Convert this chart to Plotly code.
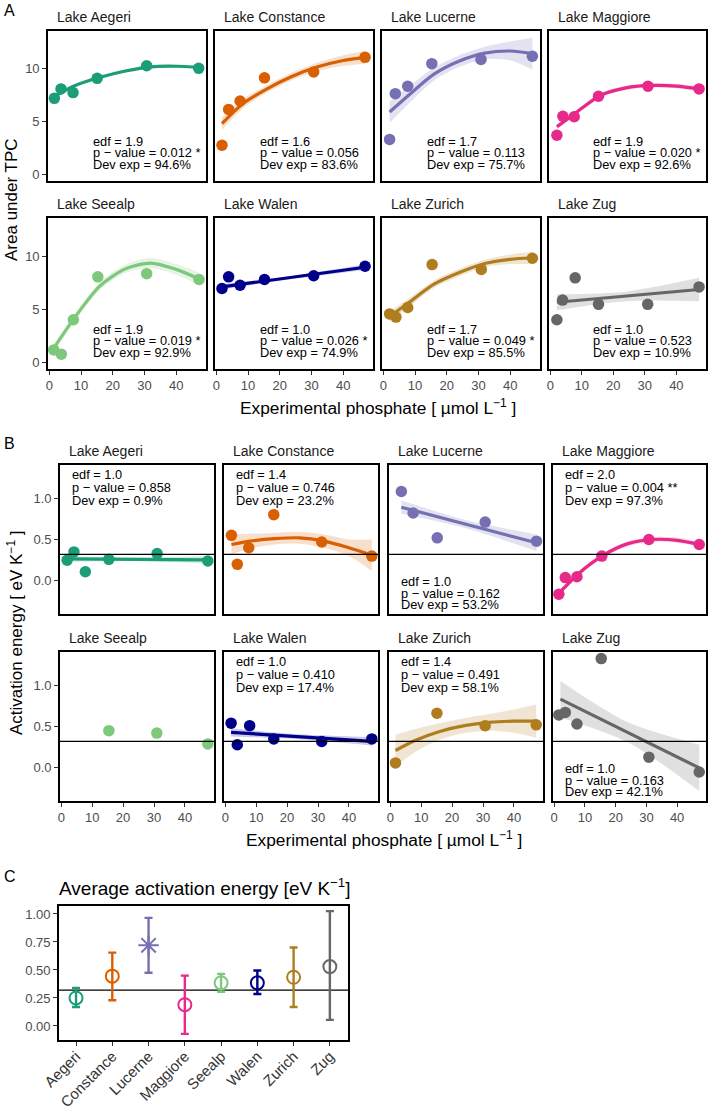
import plotly.graph_objects as go

# ---------------- data ----------------
lakes = ["Aegeri", "Constance", "Lucerne", "Maggiore", "Seealp", "Walen", "Zurich", "Zug"]
lake_colors = ["#1b9e77", "#d95f02", "#7570b3", "#e7298a", "#7dc87a", "#00008b", "#b07d1e", "#666666"]

# Panel A: area under TPC vs phosphate
auc_x = [
    [1.6, 3.7, 7.5, 15.1, 30.7, 47.1],
    [1.8, 3.9, 7.5, 15.2, 30.7, 46.9],
    [2.0, 3.8, 7.7, 15.3, 30.8, 47.0],
    [2.1, 4.0, 7.6, 15.3, 31.0, 47.2],
    [1.4, 3.8, 7.6, 15.3, 30.7, 47.2],
    [1.8, 3.9, 7.5, 15.2, 30.7, 46.9],
    [2.0, 4.0, 7.7, 15.4, 30.9, 47.0],
    [2.1, 3.9, 7.9, 15.3, 30.9, 47.2],
]
auc_y = [
    [7.2, 8.1, 7.75, 9.1, 10.3, 10.05],
    [2.75, 6.15, 6.95, 9.15, 9.7, 11.1],
    [3.3, 7.65, 8.35, 10.5, 10.9, 11.2],
    [3.7, 5.5, 5.45, 7.4, 8.35, 8.1],
    [1.15, 0.75, 4.0, 8.05, 8.35, 7.8],
    [6.95, 8.05, 7.25, 7.8, 8.15, 9.05],
    [4.55, 4.25, 5.15, 9.2, 8.75, 9.8],
    [4.0, 5.85, 7.95, 5.45, 5.45, 7.1],
]
auc_fit_x = [
    [1.6, 8, 16, 24, 32, 40, 47.1],
    [1.8, 8, 16, 24, 32, 40, 46.9],
    [2.0, 8, 16, 24, 32, 40, 47.0],
    [2.1, 8, 16, 24, 32, 40, 47.2],
    [1.4, 8, 16, 24, 32, 40, 47.2],
    [1.8, 24, 46.9],
    [2.0, 8, 16, 24, 32, 40, 47.0],
    [2.1, 24, 47.2],
]
auc_fit = [
    [7.4, 8.4, 9.2, 9.8, 10.2, 10.25, 10.15],
    [4.8, 6.6, 8.1, 9.3, 10.2, 10.8, 11.1],
    [5.9, 7.5, 9.5, 10.75, 11.5, 11.7, 11.45],
    [4.5, 5.8, 7.5, 8.2, 8.43, 8.37, 8.1],
    [1.3, 4.2, 7.2, 8.8, 9.35, 8.75, 7.85],
    [7.1, 8.0, 8.95],
    [4.3, 5.6, 7.35, 8.45, 9.3, 9.7, 9.85],
    [5.65, 6.2, 6.85],
]
auc_se = [
    [0.2, 0.15, 0.15, 0.15, 0.15, 0.15, 0.2],
    [0.6, 0.45, 0.35, 0.35, 0.4, 0.5, 0.6],
    [1.0, 0.8, 0.6, 0.55, 0.6, 0.9, 1.5],
    [0.25, 0.2, 0.2, 0.2, 0.2, 0.2, 0.25],
    [0.4, 0.35, 0.35, 0.4, 0.5, 0.5, 0.6],
    [0.25, 0.15, 0.25],
    [0.5, 0.4, 0.35, 0.35, 0.35, 0.45, 0.6],
    [0.75, 0.45, 1.1],
]
auc_edf = ["1.9", "1.6", "1.7", "1.9", "1.9", "1.0", "1.7", "1.0"]
auc_p = ["0.012 *", "0.056", "0.113", "0.020 *", "0.019 *", "0.026 *", "0.049 *", "0.523"]
auc_dev = ["94.6", "83.6", "75.7", "92.6", "92.9", "74.9", "85.5", "10.9"]

# Panel B: activation energy vs phosphate
ea_x = [
    [1.9, 4.1, 7.8, 15.4, 31.0, 47.4],
    [2.0, 3.9, 7.6, 15.7, 31.2, 47.4],
    [3.6, 7.4, 15.2, 30.7, 47.3],
    [1.5, 3.6, 7.4, 15.5, 30.8, 47.2],
    [15.4, 30.9, 47.4],
    [1.9, 3.9, 7.9, 15.7, 31.2, 47.4],
    [1.7, 15.1, 30.7, 47.2],
    [1.5, 3.6, 7.4, 15.3, 30.8, 47.2],
]
ea_y = [
    [0.25, 0.35, 0.11, 0.26, 0.33, 0.24],
    [0.55, 0.20, 0.40, 0.80, 0.47, 0.30],
    [1.08, 0.82, 0.52, 0.71, 0.48],
    [-0.16, 0.04, 0.05, 0.30, 0.50, 0.44],
    [0.45, 0.42, 0.29],
    [0.54, 0.28, 0.51, 0.35, 0.32, 0.35],
    [0.06, 0.66, 0.51, 0.52],
    [0.64, 0.67, 0.53, 1.32, 0.13, -0.05],
]
ea_fit_x = [
    [1.9, 24, 47.4],
    [2.0, 8, 16, 24, 32, 40, 47.4],
    [3.6, 25, 47.3],
    [1.5, 8, 16, 24, 32, 40, 47.2],
    [],
    [1.9, 24, 47.4],
    [1.7, 8, 16, 24, 32, 40, 47.2],
    [2.0, 24, 47.2],
]
ea_fit = [
    [0.265, 0.26, 0.255],
    [0.44, 0.48, 0.51, 0.52, 0.48, 0.40, 0.31],
    [0.89, 0.68, 0.46],
    [-0.15, 0.09, 0.31, 0.45, 0.50, 0.49, 0.44],
    [],
    [0.43, 0.375, 0.32],
    [0.21, 0.33, 0.44, 0.51, 0.55, 0.565, 0.565],
    [0.83, 0.43, 0.0],
]
ea_se = [
    [0.035, 0.02, 0.045],
    [0.12, 0.09, 0.07, 0.07, 0.08, 0.1, 0.19],
    [0.08, 0.05, 0.1],
    [0.03, 0.03, 0.03, 0.03, 0.03, 0.03, 0.03],
    [],
    [0.05, 0.03, 0.05],
    [0.19, 0.14, 0.1, 0.09, 0.1, 0.14, 0.2],
    [0.22, 0.12, 0.28],
]
ea_edf = ["1.0", "1.4", "1.0", "2.0", None, "1.0", "1.4", "1.0"]
ea_p = ["0.858", "0.746", "0.162", "0.004 **", None, "0.410", "0.491", "0.163"]
ea_dev = ["0.9", "23.2", "53.2", "97.3", None, "17.4", "58.1", "42.1"]
ea_label_pos = ["top", "top", "bottom", "top", None, "top", "top", "bottom"]
ea_reference = 0.32

# Panel C: average activation energy
ea_mean = [0.25, 0.445, 0.72, 0.19, 0.385, 0.385, 0.435, 0.53]
ea_low = [0.17, 0.23, 0.475, -0.07, 0.305, 0.285, 0.17, 0.055]
ea_high = [0.34, 0.655, 0.965, 0.45, 0.465, 0.495, 0.70, 1.025]
ea_symbol = ["circle-open", "circle-open", "asterisk-open", "circle-open",
             "circle-open", "circle-open", "circle-open", "circle-open"]

# ---------------- layout helpers ----------------
W, H = 709, 1109
FONT = "Liberation Sans, Arial, sans-serif"
XR = [-0.4, 49.4]
A_YR = [-0.65, 13.6]
B_YR = [-0.40, 1.40]
C_YR = [-0.125, 1.071]

A_cols = [(48, 206), (215, 373), (382, 540), (549, 706)]
A_rows = [(31, 181), (218, 369)]
B_cols = [(60, 214), (224, 378), (389, 543), (553, 706)]
B_rows = [(465, 614), (652, 801)]
C_cols = (59, 348)
C_rows = (906, 1040)


def hex_rgba(h, a):
    h = h.lstrip("#")
    return f"rgba({int(h[0:2], 16)},{int(h[2:4], 16)},{int(h[4:6], 16)},{a})"


def px(x):
    return x / W


def py(y):
    return 1 - y / H


fig = go.Figure()
layout = dict(width=W, height=H, margin=dict(l=0, r=0, t=0, b=0),
              paper_bgcolor="white", plot_bgcolor="white", showlegend=False,
              font=dict(family=FONT, color="black"))
annotations = []
shapes = []


def axis_names(n):
    return ("xaxis" if n == 1 else f"xaxis{n}", "yaxis" if n == 1 else f"yaxis{n}",
            "x" if n == 1 else f"x{n}", "y" if n == 1 else f"y{n}")


def make_facet(n, cols, rows, yr, ytv, yfmt, is_left, is_bottom):
    xa, ya, xr, yrf = axis_names(n)
    layout[xa] = dict(domain=[px(cols[0]), px(cols[1])], range=XR, anchor=yrf,
                      showline=True, mirror=True, linecolor="black", linewidth=1.6,
                      showgrid=False, zeroline=False,
                      ticks="outside" if is_bottom else "", ticklen=4, tickwidth=1,
                      tickcolor="#333333", showticklabels=is_bottom,
                      tickvals=[0, 10, 20, 30, 40],
                      tickfont=dict(size=13, color="#4d4d4d"), automargin=False,
                      fixedrange=True)
    layout[ya] = dict(domain=[py(rows[1]), py(rows[0])], range=yr, anchor=xr,
                      showline=True, mirror=True, linecolor="black", linewidth=1.6,
                      showgrid=False, zeroline=False,
                      ticks="outside" if is_left else "", ticklen=4, tickwidth=1,
                      tickcolor="#333333", showticklabels=is_left,
                      tickvals=ytv, tickformat=yfmt,
                      tickfont=dict(size=13, color="#4d4d4d"), automargin=False,
                      fixedrange=True)
    return xr, yrf


def add_fit(xr, yrf, fx, fy, se, color):
    if not fx:
        return
    shape = "spline" if len(fx) > 3 else "linear"
    lower = [f - s for f, s in zip(fy, se)]
    upper = [f + s for f, s in zip(fy, se)]
    fig.add_trace(go.Scatter(x=fx, y=lower, xaxis=xr, yaxis=yrf, mode="lines",
                             line=dict(width=0, shape="spline", smoothing=0.8),
                             hoverinfo="skip"))
    fig.add_trace(go.Scatter(x=fx, y=upper, xaxis=xr, yaxis=yrf, mode="lines",
                             line=dict(width=0, shape="spline", smoothing=0.8),
                             fill="tonexty", fillcolor=hex_rgba(color, 0.2),
                             hoverinfo="skip"))
    fig.add_trace(go.Scatter(x=fx, y=fy, xaxis=xr, yaxis=yrf, mode="lines",
                             line=dict(width=3.2, color=color, shape=shape, smoothing=0.8),
                             hoverinfo="skip"))


def add_stats(xr, yrf, xpos, ypos, edf, p, dev):
    lines = [f"edf = {edf}", f"p \u2212 value = {p}", f"Dev exp = {dev}%"]
    for t, yv in zip(lines, ypos):
        annotations.append(dict(x=xpos, y=yv, xref=xr, yref=yrf, text=t,
                                showarrow=False, xanchor="left", yanchor="middle",
                                font=dict(size=12.8, color="black", family=FONT)))


def add_strip(cols, rows, name):
    annotations.append(dict(x=px(cols[0] + 7), y=py(rows[0] - 14), xref="paper", yref="paper",
                            text=f"Lake {name}", showarrow=False, xanchor="left",
                            yanchor="middle", font=dict(size=14, color="#1a1a1a", family=FONT)))


# ---------------- Panel A ----------------
for i, lake in enumerate(lakes):
    r, c = divmod(i, 4)
    n = i + 1
    xr, yrf = make_facet(n, A_cols[c], A_rows[r], A_YR, [0, 5, 10], "d", c == 0, r == 1)
    col = lake_colors[i]
    add_fit(xr, yrf, auc_fit_x[i], auc_fit[i], auc_se[i], col)
    fig.add_trace(go.Scatter(x=auc_x[i], y=auc_y[i], xaxis=xr, yaxis=yrf, mode="markers",
                             marker=dict(size=11.5, color=col), cliponaxis=False))
    add_stats(xr, yrf, 13.0, [3.1, 2.05, 0.95], auc_edf[i], auc_p[i], auc_dev[i])
    add_strip(A_cols[c], A_rows[r], lake)

# ---------------- Panel B ----------------
for i, lake in enumerate(lakes):
    r, c = divmod(i, 4)
    n = 9 + i
    xr, yrf = make_facet(n, B_cols[c], B_rows[r], B_YR, [0, 0.5, 1.0], ".1f", c == 0, r == 1)
    col = lake_colors[i]
    add_fit(xr, yrf, ea_fit_x[i], ea_fit[i], ea_se[i], col)
    fig.add_trace(go.Scatter(x=ea_x[i], y=ea_y[i], xaxis=xr, yaxis=yrf, mode="markers",
                             marker=dict(size=11.5, color=col), cliponaxis=False))
    shapes.append(dict(type="line", xref=f"{xr} domain", yref=yrf, x0=0, x1=1,
                       y0=ea_reference, y1=ea_reference, line=dict(color="black", width=1.3)))
    if ea_label_pos[i] == "top":
        add_stats(xr, yrf, 2.8, [1.28, 1.125, 0.97], ea_edf[i], ea_p[i], ea_dev[i])
    elif ea_label_pos[i] == "bottom":
        add_stats(xr, yrf, 2.8, [-0.01, -0.15, -0.29], ea_edf[i], ea_p[i], ea_dev[i])
    add_strip(B_cols[c], B_rows[r], lake)

# ---------------- Panel C ----------------
n = 17
xa, ya, xr, yrf = axis_names(n)
layout[xa] = dict(domain=[px(C_cols[0]), px(C_cols[1])], range=[-0.47, 7.5], anchor=yrf,
                  type="category", categoryorder="array", categoryarray=lakes,
                  showline=True, mirror=True, linecolor="black", linewidth=1.6,
                  showgrid=False, zeroline=False, ticks="outside", ticklen=4,
                  tickcolor="#333333", tickangle=-45, ticklabelstandoff=-4,
                  tickfont=dict(size=15, color="#333333"), automargin=False,
                  fixedrange=True)
layout[ya] = dict(domain=[py(C_rows[1]), py(C_rows[0])], range=C_YR, anchor=xr,
                  showline=True, mirror=True, linecolor="black", linewidth=1.6,
                  showgrid=False, zeroline=False, ticks="outside", ticklen=4,
                  tickcolor="#333333", tickvals=[0, 0.25, 0.5, 0.75, 1.0], tickformat=".2f",
                  tickfont=dict(size=13, color="#4d4d4d"), automargin=False,
                  fixedrange=True)
shapes.append(dict(type="line", xref=f"{xr} domain", yref=yrf, x0=0, x1=1,
                   y0=ea_reference, y1=ea_reference, line=dict(color="black", width=1.3),
                   layer="below"))
for i, lake in enumerate(lakes):
    col = lake_colors[i]
    fig.add_trace(go.Scatter(
        x=[lake], y=[ea_mean[i]], xaxis=xr, yaxis=yrf, mode="markers",
        marker=dict(symbol=ea_symbol[i], size=17 if "asterisk" in ea_symbol[i] else 13,
                    color=col, line=dict(color=col, width=2)),
        error_y=dict(type="data", symmetric=False, array=[ea_high[i] - ea_mean[i]],
                     arrayminus=[ea_mean[i] - ea_low[i]], color=col, thickness=2.4, width=4),
        cliponaxis=False))

# ---------------- titles & labels ----------------
def txt(x, y, text, size, xanchor="center", angle=0, color="black"):
    annotations.append(dict(x=px(x), y=py(y), xref="paper", yref="paper", text=text,
                            showarrow=False, xanchor=xanchor, yanchor="middle",
                            textangle=angle, font=dict(size=size, color=color, family=FONT)))


txt(2, 10, "A", 16, xanchor="left")
txt(2, 443, "B", 16, xanchor="left")
txt(2, 876, "C", 16, xanchor="left")
txt(378, 407, "Experimental phosphate [ \u00b5mol L<sup>\u22121</sup> ]", 17.3)
txt(384, 839, "Experimental phosphate [ \u00b5mol L<sup>\u22121</sup> ]", 17.3)
txt(12, 200, "Area under TPC", 17, angle=-90)
txt(15, 633, "Activation energy [ eV K<sup>\u22121</sup> ]", 17, angle=-90)
txt(57, 887, "Average activation energy [eV K<sup>\u22121</sup>]", 19, xanchor="left")

layout["annotations"] = annotations
layout["shapes"] = shapes
fig.update_layout(**layout)
fig.write_html("out.html")
